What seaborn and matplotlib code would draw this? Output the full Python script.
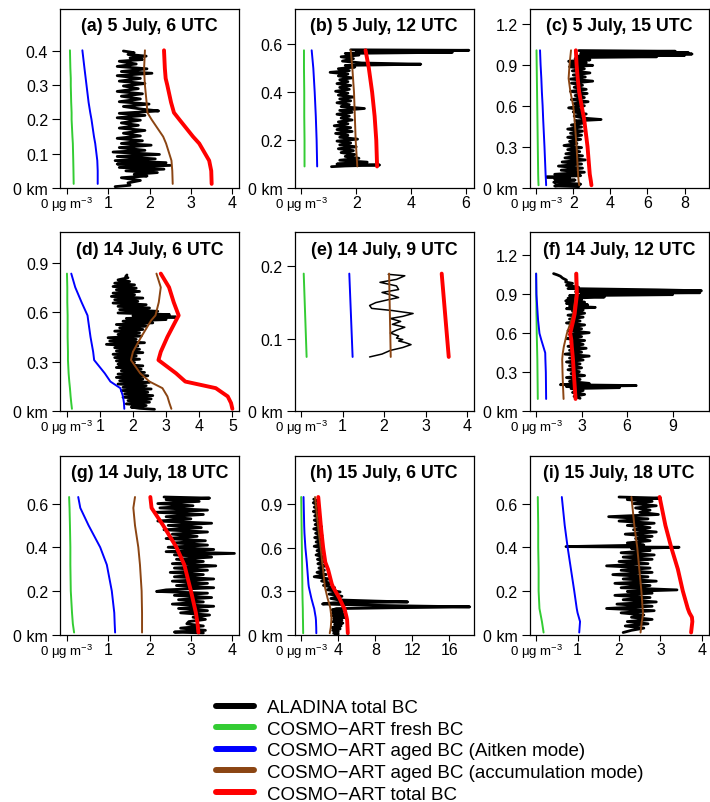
import matplotlib
matplotlib.use("Agg")
from matplotlib import pyplot as plt
from matplotlib.lines import Line2D
import seaborn as sns

# colours of the model components
C_OBS = "black"
C_FRESH = "#33CC33"
C_AITKEN = "#0000FF"
C_ACCUM = "#8B4513"
C_TOTAL = "#FF0000"

# ---------------- (a) 5 July, 6 UTC ----------------
a_z = [0.402, 0.35, 0.32, 0.30, 0.25, 0.22, 0.20, 0.15, 0.13, 0.08, 0.05, 0.012]
a_fresh = [0.08, 0.09, 0.10, 0.10, 0.11, 0.12, 0.12, 0.14, 0.15, 0.16, 0.165, 0.17]
a_aitken = [0.38, 0.43, 0.46, 0.48, 0.53, 0.57, 0.60, 0.66, 0.69, 0.74, 0.75, 0.75]
a_accum = [1.89, 1.87, 1.88, 1.89, 1.93, 1.95, 2.05, 2.33, 2.40, 2.53, 2.55, 2.56]
a_total = [2.35, 2.37, 2.39, 2.43, 2.52, 2.59, 2.72, 3.05, 3.20, 3.44, 3.49, 3.50]
a_obs_z = [0.400, 0.395, 0.390, 0.385, 0.380, 0.375, 0.370, 0.362, 0.355, 0.348,
           0.340, 0.335, 0.328, 0.320, 0.312, 0.305, 0.298, 0.290, 0.282, 0.275,
           0.268, 0.260, 0.252, 0.245, 0.238, 0.230, 0.225, 0.218, 0.212, 0.205,
           0.198, 0.190, 0.183, 0.175, 0.168, 0.160, 0.152, 0.145, 0.138, 0.130,
           0.125, 0.118, 0.110, 0.105, 0.098, 0.092, 0.085, 0.080, 0.074, 0.070,
           0.066, 0.060, 0.055, 0.050, 0.045, 0.040, 0.035, 0.030, 0.022, 0.015,
           0.008, 0.004]
a_obs_x = [1.37, 1.63, 1.48, 1.92, 1.53, 1.83, 1.27, 1.68, 1.22, 1.94,
           1.32, 2.06, 1.22, 1.78, 1.27, 1.89, 1.37, 1.73, 1.22, 1.83,
           1.32, 1.78, 1.27, 1.99, 1.37, 1.83, 2.22, 1.27, 1.89, 1.22,
           1.78, 1.32, 1.73, 1.27, 1.89, 1.37, 1.78, 1.22, 1.83, 1.32,
           2.04, 1.27, 1.89, 1.12, 2.24, 1.22, 2.14, 1.17, 2.40, 1.22,
           2.50, 1.27, 2.35, 1.43, 2.19, 1.63, 1.94, 1.32, 1.78, 1.48,
           1.53, 1.17]

# ---------------- (b) 5 July, 12 UTC ----------------
b_z = [0.575, 0.5, 0.4, 0.3, 0.2, 0.09]
b_fresh = [0.10, 0.10, 0.11, 0.11, 0.12, 0.12]
b_aitken = [0.38, 0.44, 0.49, 0.53, 0.56, 0.58]
b_accum = [1.80, 1.86, 1.92, 1.95, 1.98, 2.04]
b_total = [2.34, 2.46, 2.58, 2.67, 2.73, 2.76]
b_obs_z = [0.577, 0.575, 0.570, 0.567, 0.562, 0.555, 0.548, 0.540, 0.530, 0.522,
           0.517, 0.512, 0.505, 0.498, 0.490, 0.483, 0.476, 0.468, 0.460, 0.452,
           0.444, 0.436, 0.428, 0.420, 0.412, 0.404, 0.396, 0.388, 0.380, 0.372,
           0.364, 0.356, 0.348, 0.340, 0.332, 0.324, 0.316, 0.308, 0.300, 0.292,
           0.284, 0.276, 0.268, 0.260, 0.252, 0.244, 0.236, 0.228, 0.220, 0.212,
           0.204, 0.196, 0.188, 0.180, 0.172, 0.164, 0.156, 0.148, 0.140, 0.132,
           0.124, 0.116, 0.108, 0.100, 0.096, 0.092, 0.089]
b_obs_x = [1.80, 6.10, 2.00, 5.50, 1.60, 2.10, 1.45, 1.90, 1.50, 2.20,
           4.35, 1.60, 1.95, 1.35, 1.75, 1.05, 1.70, 1.35, 1.85, 1.40,
           1.70, 1.30, 1.80, 1.40, 1.75, 1.25, 1.70, 1.35, 1.90, 1.40,
           1.80, 1.30, 1.75, 1.45, 2.30, 1.40, 1.85, 1.30, 1.75, 1.45,
           1.85, 1.35, 1.70, 1.20, 1.80, 1.30, 1.85, 1.25, 1.70, 1.40,
           2.05, 1.30, 1.80, 1.40, 2.00, 1.35, 1.90, 1.45, 1.95, 1.60,
           2.10, 1.40, 2.40, 1.30, 2.85, 1.60, 1.10]

# ---------------- (c) 5 July, 15 UTC ----------------
c_z = [1.005, 0.9, 0.8, 0.7, 0.6, 0.5, 0.3, 0.1, 0.05, 0.02]
c_fresh = [0.02, 0.03, 0.04, 0.05, 0.06, 0.07, 0.09, 0.11, 0.12, 0.13]
c_aitken = [0.21, 0.24, 0.28, 0.31, 0.35, 0.38, 0.45, 0.51, 0.53, 0.54]
c_accum = [1.88, 1.80, 1.75, 1.85, 2.00, 2.07, 2.18, 2.26, 2.29, 2.32]
c_total = [2.14, 2.18, 2.24, 2.32, 2.45, 2.59, 2.77, 2.89, 2.95, 2.98]
c_obs_z = [1.003, 0.998, 0.993, 0.988, 0.983, 0.978, 0.973, 0.968, 0.963, 0.958,
           0.953, 0.945, 0.935, 0.925, 0.915, 0.905, 0.895, 0.885, 0.870, 0.855,
           0.840, 0.825, 0.810, 0.795, 0.780, 0.765, 0.750, 0.735, 0.720, 0.705,
           0.690, 0.675, 0.660, 0.645, 0.630, 0.615, 0.600, 0.585, 0.570, 0.555,
           0.540, 0.525, 0.510, 0.500, 0.490, 0.475, 0.460, 0.445, 0.430, 0.415,
           0.400, 0.385, 0.370, 0.355, 0.340, 0.325, 0.310, 0.295, 0.280, 0.265,
           0.250, 0.235, 0.220, 0.205, 0.190, 0.175, 0.160, 0.145, 0.130, 0.115,
           0.100, 0.090, 0.080, 0.072, 0.065, 0.058, 0.050, 0.042, 0.035, 0.028,
           0.022, 0.015, 0.010]
c_obs_x = [2.30, 7.50, 2.50, 8.20, 2.40, 8.40, 2.60, 8.00, 2.30, 6.50,
           2.80, 2.10, 2.90, 1.75, 2.70, 1.85, 3.05, 1.80, 2.60, 1.95,
           2.90, 2.00, 2.65, 1.85, 3.05, 1.90, 2.50, 2.05, 2.70, 1.85,
           2.75, 2.10, 2.60, 1.90, 2.80, 2.00, 2.60, 1.75, 2.50, 2.00,
           2.70, 2.05, 2.55, 3.50, 2.10, 2.60, 1.90, 2.45, 1.70, 2.50,
           1.85, 2.45, 1.70, 2.40, 1.80, 2.20, 1.50, 2.45, 1.70, 2.35,
           1.60, 2.50, 1.55, 2.65, 1.40, 2.45, 1.20, 2.50, 1.35, 2.60,
           1.00, 2.40, 0.55, 1.80, 1.00, 2.10, 1.20, 0.95, 1.70, 2.40,
           1.50, 1.00, 2.30]

# ---------------- (d) 14 July, 6 UTC ----------------
d_z = [0.833, 0.75, 0.66, 0.58, 0.55, 0.45, 0.36, 0.31, 0.23, 0.18, 0.14, 0.09, 0.05, 0.015]
d_fresh = [0.01, 0.02, 0.02, 0.03, 0.03, 0.03, 0.04, 0.04, 0.06, 0.08, 0.10, 0.12, 0.14, 0.16]
d_aitken = [0.14, 0.26, 0.45, 0.63, 0.65, 0.72, 0.80, 0.83, 1.15, 1.32, 1.62, 1.70, 1.73, 1.74]
d_accum = [2.71, 2.84, 2.78, 2.68, 2.55, 2.25, 2.00, 1.94, 2.22, 2.50, 2.89, 3.04, 3.10, 3.16]
d_total = [2.84, 3.09, 3.23, 3.38, 3.30, 3.04, 2.84, 2.77, 3.30, 3.58, 4.50, 4.86, 4.96, 5.00]
d_obs_z = [0.825, 0.815, 0.808, 0.795, 0.785, 0.775, 0.765, 0.755, 0.745, 0.735,
           0.725, 0.715, 0.705, 0.695, 0.685, 0.675, 0.665, 0.655, 0.645, 0.635,
           0.625, 0.615, 0.605, 0.595, 0.585, 0.578, 0.570, 0.562, 0.555, 0.545,
           0.535, 0.525, 0.515, 0.505, 0.495, 0.485, 0.475, 0.465, 0.455, 0.445,
           0.435, 0.425, 0.415, 0.405, 0.395, 0.385, 0.375, 0.365, 0.355, 0.345,
           0.335, 0.325, 0.315, 0.305, 0.295, 0.285, 0.275, 0.265, 0.255, 0.245,
           0.235, 0.225, 0.215, 0.205, 0.195, 0.185, 0.175, 0.165, 0.155, 0.145,
           0.135, 0.125, 0.115, 0.105, 0.095, 0.085, 0.075, 0.065, 0.055, 0.045,
           0.035, 0.025, 0.018, 0.012]
d_obs_x = [1.82, 1.78, 1.85, 1.55, 1.90, 1.45, 2.05, 1.40, 2.10, 1.50,
           2.20, 1.40, 2.05, 1.35, 2.30, 1.45, 2.15, 1.40, 2.40, 1.55,
           2.50, 1.60, 2.75, 1.55, 3.10, 2.00, 3.30, 1.80, 3.00, 1.70,
           2.60, 1.50, 2.40, 1.60, 2.30, 1.45, 2.20, 1.55, 2.25, 1.25,
           2.10, 1.30, 2.35, 1.20, 2.15, 1.45, 2.20, 1.50, 2.30, 1.40,
           2.10, 1.45, 2.20, 1.50, 2.05, 1.55, 2.30, 1.50, 2.25, 1.65,
           2.35, 1.55, 2.45, 1.50, 2.30, 1.60, 2.50, 1.55, 2.40, 1.70,
           2.55, 1.65, 2.45, 1.75, 2.60, 1.70, 2.55, 1.85, 2.50, 1.80,
           2.40, 1.95, 2.20, 2.65]

# ---------------- (e) 14 July, 9 UTC ----------------
e_z = [0.19, 0.075]
e_fresh = [0.06, 0.13]
e_aitken = [1.16, 1.24]
e_accum = [2.12, 2.16]
e_total = [3.39, 3.56]
e_obs_z = [0.189, 0.187, 0.182, 0.178, 0.173, 0.168, 0.164, 0.160, 0.157, 0.154,
           0.150, 0.146, 0.142, 0.139, 0.135, 0.131, 0.128, 0.124, 0.120, 0.116,
           0.112, 0.108, 0.104, 0.101, 0.099, 0.097, 0.095, 0.092, 0.088, 0.084,
           0.079, 0.075]
e_obs_x = [2.10, 2.50, 2.30, 1.90, 2.30, 2.35, 1.95, 2.20, 2.35, 2.10,
           1.80, 1.65, 1.70, 2.20, 2.70, 2.45, 2.15, 2.40, 2.20, 2.50,
           2.30, 2.15, 2.35, 2.30, 2.45, 2.35, 2.50, 2.65, 2.45, 2.15,
           1.95, 1.65]

# ---------------- (f) 14 July, 12 UTC ----------------
f_z = [1.06, 0.9, 0.75, 0.7, 0.6, 0.55, 0.5, 0.45, 0.4, 0.3, 0.2, 0.095]
f_fresh = [0.00, 0.01, 0.02, 0.03, 0.04, 0.05, 0.06, 0.07, 0.08, 0.09, 0.10, 0.11]
f_aitken = [0.00, 0.02, 0.10, 0.13, 0.22, 0.34, 0.47, 0.60, 0.61, 0.64, 0.65, 0.66]
f_accum = [2.60, 2.62, 2.45, 2.32, 2.03, 1.93, 1.83, 1.76, 1.72, 1.74, 1.77, 1.81]
f_total = [2.65, 2.69, 2.54, 2.45, 2.25, 2.32, 2.35, 2.39, 2.43, 2.48, 2.54, 2.60]
f_obs_z = [1.060, 1.050, 1.040, 1.025, 1.010, 0.995, 0.985, 0.970, 0.955, 0.945,
           0.935, 0.928, 0.920, 0.913, 0.905, 0.898, 0.890, 0.880, 0.870, 0.860,
           0.850, 0.840, 0.830, 0.820, 0.810, 0.800, 0.790, 0.780, 0.770, 0.755,
           0.740, 0.725, 0.710, 0.695, 0.680, 0.665, 0.650, 0.635, 0.620, 0.605,
           0.590, 0.575, 0.560, 0.545, 0.530, 0.515, 0.500, 0.485, 0.470, 0.455,
           0.440, 0.425, 0.410, 0.395, 0.380, 0.365, 0.350, 0.335, 0.320, 0.305,
           0.290, 0.275, 0.260, 0.245, 0.230, 0.215, 0.205, 0.198, 0.190, 0.182,
           0.175, 0.160, 0.145, 0.130, 0.115, 0.100]
f_obs_x = [1.15, 1.40, 1.60, 1.75, 2.00, 1.95, 2.40, 2.00, 2.80, 2.10,
           8.00, 10.9, 2.60, 10.8, 3.00, 9.00, 2.20, 4.50, 2.10, 3.00,
           1.95, 3.20, 2.00, 3.40, 2.20, 3.90, 2.00, 3.10, 2.40, 3.20,
           2.10, 3.10, 2.20, 2.90, 2.00, 3.20, 2.30, 3.00, 2.10, 3.50,
           2.20, 3.00, 2.00, 3.20, 2.30, 3.10, 2.10, 3.30, 2.20, 3.00,
           1.90, 3.50, 2.20, 3.10, 2.00, 2.90, 2.20, 3.00, 2.10, 2.85,
           2.30, 3.20, 2.00, 2.90, 2.20, 3.50, 1.60, 6.60, 2.00, 5.50,
           2.30, 3.10, 2.40, 3.20, 2.50, 2.90]

# ---------------- (g) 14 July, 18 UTC ----------------
g_z = [0.63, 0.58, 0.5, 0.4, 0.32, 0.2, 0.1, 0.05, 0.01]
g_fresh = [0.06, 0.07, 0.08, 0.09, 0.09, 0.10, 0.13, 0.15, 0.18]
g_aitken = [0.28, 0.33, 0.53, 0.81, 0.97, 1.09, 1.15, 1.16, 1.17]
g_accum = [1.65, 1.61, 1.65, 1.73, 1.77, 1.81, 1.82, 1.82, 1.82]
g_total = [2.02, 2.05, 2.33, 2.65, 2.84, 3.00, 3.12, 3.16, 3.18]
g_obs_z = [0.630, 0.625, 0.618, 0.610, 0.600, 0.590, 0.580, 0.570, 0.560, 0.550,
           0.540, 0.530, 0.520, 0.510, 0.500, 0.490, 0.480, 0.470, 0.460, 0.450,
           0.440, 0.430, 0.420, 0.410, 0.400, 0.390, 0.380, 0.372, 0.365, 0.355,
           0.345, 0.335, 0.325, 0.315, 0.305, 0.295, 0.285, 0.275, 0.265, 0.255,
           0.245, 0.235, 0.225, 0.215, 0.205, 0.198, 0.190, 0.180, 0.170, 0.160,
           0.150, 0.140, 0.130, 0.120, 0.110, 0.100, 0.090, 0.080, 0.070, 0.060,
           0.050, 0.040, 0.030, 0.020, 0.012, 0.008]
g_obs_x = [2.35, 3.45, 2.40, 3.20, 2.20, 3.05, 2.25, 3.40, 2.15, 3.30,
           2.40, 3.00, 2.20, 3.50, 2.45, 3.25, 2.35, 3.40, 2.55, 3.15,
           2.40, 3.35, 2.60, 3.40, 2.45, 3.55, 2.40, 4.05, 2.60, 3.50,
           2.65, 3.30, 2.55, 3.60, 2.60, 3.40, 2.50, 3.30, 2.60, 3.55,
           2.55, 3.40, 2.65, 3.55, 2.40, 2.17, 3.40, 2.60, 3.50, 2.70,
           3.30, 2.55, 3.55, 2.70, 3.40, 2.75, 3.45, 3.05, 3.35, 2.95,
           2.90, 3.30, 2.75, 3.35, 2.60, 3.30]

# ---------------- (h) 15 July, 6 UTC ----------------
h_z = [0.95, 0.75, 0.7, 0.6, 0.5, 0.45, 0.35, 0.33, 0.25, 0.2, 0.18, 0.12, 0.1, 0.05, 0.01]
h_fresh = [0.00, 0.04, 0.05, 0.07, 0.09, 0.10, 0.12, 0.12, 0.14, 0.16, 0.17, 0.18, 0.19, 0.20, 0.21]
h_aitken = [0.25, 0.32, 0.35, 0.45, 0.60, 0.66, 0.78, 0.82, 1.10, 1.31, 1.40, 1.56, 1.59, 1.62, 1.63]
h_accum = [1.49, 1.82, 1.91, 2.10, 2.27, 2.36, 2.52, 2.55, 2.85, 3.08, 3.15, 3.26, 3.25, 3.19, 3.08]
h_total = [1.84, 2.12, 2.20, 2.37, 2.60, 2.90, 3.30, 3.43, 4.14, 4.50, 4.67, 4.90, 4.96, 5.00, 5.03]
h_obs_z = [0.935, 0.925, 0.910, 0.895, 0.880, 0.865, 0.850, 0.835, 0.820, 0.805,
           0.790, 0.775, 0.760, 0.745, 0.730, 0.715, 0.700, 0.685, 0.670, 0.655,
           0.640, 0.625, 0.610, 0.595, 0.580, 0.565, 0.550, 0.535, 0.520, 0.505,
           0.490, 0.475, 0.460, 0.445, 0.430, 0.415, 0.400, 0.385, 0.370, 0.355,
           0.340, 0.325, 0.310, 0.295, 0.280, 0.265, 0.250, 0.240, 0.232, 0.226,
           0.220, 0.212, 0.205, 0.198, 0.192, 0.186, 0.180, 0.170, 0.160, 0.150,
           0.140, 0.130, 0.120, 0.110, 0.100, 0.090, 0.080, 0.070, 0.060, 0.050,
           0.040, 0.030, 0.020, 0.010, 0.005]
h_obs_x = [1.35, 1.70, 1.30, 1.80, 1.40, 2.00, 1.30, 1.90, 1.45, 2.10,
           1.40, 2.00, 1.50, 2.20, 1.35, 2.10, 1.55, 2.25, 1.45, 2.20,
           1.60, 2.30, 1.40, 2.40, 1.70, 2.30, 1.60, 2.50, 1.75, 2.45,
           1.80, 2.60, 1.90, 2.50, 1.70, 2.70, 1.40, 3.00, 2.20, 3.20,
           2.40, 3.60, 2.80, 4.20, 3.00, 4.40, 3.20, 4.00, 8.00, 11.5,
           3.50, 2.30, 6.00, 12.0, 18.2, 10.0, 3.80, 3.30, 4.50, 3.40,
           4.60, 3.30, 4.70, 3.50, 4.40, 3.40, 4.50, 3.60, 4.30, 3.30,
           4.20, 3.40, 4.00, 3.50, 4.00]

# ---------------- (i) 15 July, 18 UTC ----------------
i_z = [0.63, 0.5, 0.4, 0.3, 0.2, 0.12, 0.1, 0.08, 0.06, 0.01]
i_fresh = [0.04, 0.05, 0.05, 0.06, 0.06, 0.08, 0.10, 0.12, 0.14, 0.18]
i_aitken = [0.62, 0.69, 0.76, 0.84, 0.92, 0.98, 1.00, 1.03, 1.06, 1.04]
i_accum = [2.30, 2.37, 2.44, 2.49, 2.54, 2.57, 2.58, 2.57, 2.55, 2.52]
i_total = [2.98, 3.12, 3.26, 3.42, 3.54, 3.66, 3.70, 3.76, 3.77, 3.74]
i_obs_z = [0.630, 0.625, 0.618, 0.610, 0.600, 0.590, 0.580, 0.570, 0.560, 0.550,
           0.540, 0.530, 0.520, 0.510, 0.500, 0.490, 0.480, 0.470, 0.460, 0.450,
           0.440, 0.430, 0.420, 0.410, 0.403, 0.400, 0.395, 0.385, 0.375, 0.365,
           0.355, 0.345, 0.335, 0.325, 0.315, 0.305, 0.295, 0.285, 0.275, 0.265,
           0.255, 0.245, 0.235, 0.225, 0.215, 0.205, 0.198, 0.190, 0.180, 0.170,
           0.160, 0.150, 0.140, 0.130, 0.120, 0.110, 0.100, 0.090, 0.080, 0.070,
           0.060, 0.050, 0.040, 0.030, 0.020, 0.010]
i_obs_x = [2.00, 3.00, 2.20, 2.80, 2.35, 2.90, 2.40, 2.75, 2.50, 2.95,
           1.75, 2.70, 2.00, 2.85, 2.20, 2.75, 2.35, 2.90, 2.15, 2.80,
           2.40, 2.75, 2.20, 2.60, 0.72, 3.45, 2.30, 2.75, 2.05, 2.85,
           2.10, 2.80, 2.00, 2.70, 1.70, 2.75, 2.05, 2.80, 1.85, 2.70,
           2.10, 2.90, 1.90, 2.75, 2.05, 3.40, 2.20, 2.80, 1.90, 2.75,
           2.10, 2.90, 1.95, 2.80, 1.70, 2.85, 2.05, 2.60, 2.30, 2.80,
           2.20, 2.70, 2.15, 2.60, 2.30, 2.10]

titles = ["(a) 5 July, 6 UTC", "(b) 5 July, 12 UTC", "(c) 5 July, 15 UTC",
          "(d) 14 July, 6 UTC", "(e) 14 July, 9 UTC", "(f) 14 July, 12 UTC",
          "(g) 14 July, 18 UTC", "(h) 15 July, 6 UTC", "(i) 15 July, 18 UTC"]
x_max = [4, 6.03, 8.93, 5.0, 4, 10.93, 4, 17.9, 4]
x_ticks = [[0, 1, 2, 3, 4], [0, 2, 4, 6], [0, 2, 4, 6, 8],
           [0, 1, 2, 3, 4, 5], [0, 1, 2, 3, 4], [0, 3, 6, 9],
           [0, 1, 2, 3, 4], [0, 4, 8, 12, 16], [0, 1, 2, 3, 4]]
y_ticks = [[0, 0.1, 0.2, 0.3, 0.4], [0, 0.2, 0.4, 0.6], [0, 0.3, 0.6, 0.9, 1.2],
           [0, 0.3, 0.6, 0.9], [0, 0.1, 0.2], [0, 0.3, 0.6, 0.9, 1.2],
           [0, 0.2, 0.4, 0.6], [0, 0.3, 0.6, 0.9], [0, 0.2, 0.4, 0.6]]

legend_labels = ["ALADINA total BC", "COSMO\u2212ART fresh BC",
                 "COSMO\u2212ART aged BC (Aitken mode)",
                 "COSMO\u2212ART aged BC (accumulation mode)",
                 "COSMO\u2212ART total BC"]

profiles = [
    (a_z, a_fresh, a_aitken, a_accum, a_total, a_obs_z, a_obs_x),
    (b_z, b_fresh, b_aitken, b_accum, b_total, b_obs_z, b_obs_x),
    (c_z, c_fresh, c_aitken, c_accum, c_total, c_obs_z, c_obs_x),
    (d_z, d_fresh, d_aitken, d_accum, d_total, d_obs_z, d_obs_x),
    (e_z, e_fresh, e_aitken, e_accum, e_total, e_obs_z, e_obs_x),
    (f_z, f_fresh, f_aitken, f_accum, f_total, f_obs_z, f_obs_x),
    (g_z, g_fresh, g_aitken, g_accum, g_total, g_obs_z, g_obs_x),
    (h_z, h_fresh, h_aitken, h_accum, h_total, h_obs_z, h_obs_x),
    (i_z, i_fresh, i_aitken, i_accum, i_total, i_obs_z, i_obs_x),
]
# the single sparse flight in (e) is drawn thinner
obs_lw = [2.0, 2.0, 2.0, 2.0, 1.1, 2.0, 2.0, 2.0, 2.0]

sns.set_style("ticks")
plt.rcParams['font.family'] = ['Liberation Sans', 'DejaVu Sans']
plt.rcParams['mathtext.default'] = 'regular'
plt.rcParams['text.color'] = 'black'
plt.rcParams['xtick.color'] = 'black'
plt.rcParams['ytick.color'] = 'black'
plt.rcParams['axes.labelcolor'] = 'black'

W, H = 710, 803
fig = plt.figure(figsize=(W / 100, H / 100), dpi=100)

col_left = [60, 294.6, 529.5]
row_top = [10, 233.3, 456.7]
box_w, box_h = 179, 179


def line(ax, x, y, color, lw):
    sns.lineplot(x=x, y=y, sort=False, estimator=None, color=color,
                 lw=lw, ax=ax, legend=False)


for k, (z, fresh, aitken, accum, total, oz, ox) in enumerate(profiles):
    r, c = divmod(k, 3)
    ax = fig.add_axes([col_left[c] / W, 1 - (row_top[r] + box_h) / H,
                       box_w / W, box_h / H])
    line(ax, ox, oz, C_OBS, obs_lw[k])
    line(ax, fresh, z, C_FRESH, 1.4)
    line(ax, aitken, z, C_AITKEN, 1.4)
    line(ax, accum, z, C_ACCUM, 1.4)
    line(ax, total, z, C_TOTAL, 2.8)

    xm = x_max[k]
    ax.set_xlim(-0.04 * xm, 1.04 * xm)
    ax.set_ylim(0, 1.3 * max(z))
    ax.set_xlabel("")
    ax.set_ylabel("")

    ax.tick_params(axis='x', direction='out', length=4.5, width=0.8,
                   labelsize=11.5, pad=0.5, color='black', labelcolor='black')
    ax.tick_params(axis='y', direction='out', length=6, width=0.8,
                   labelsize=11.5, pad=2.5, color='black', labelcolor='black')

    xt = x_ticks[k]
    ax.set_xticks(xt, ["0 \u03bcg m$^{-3}$"] + [f"{v:g}" for v in xt[1:]])
    ax.get_xticklabels()[0].set_fontsize(9.5)
    yt = y_ticks[k]
    ax.set_yticks(yt, ["0 km"] + [f"{v:g}" for v in yt[1:]])

    for sp in ax.spines.values():
        sp.set_visible(True)
        sp.set_color('black')
        sp.set_linewidth(0.9)

    ax.annotate(titles[k], xy=(0.5, 1), xycoords='axes fraction',
                xytext=(0, -12.2), textcoords='offset points',
                ha='center', va='center', fontsize=12.8, fontweight='bold',
                color='black')

handles = [Line2D([], [], color=col, lw=4.3, solid_capstyle='round')
           for col in (C_OBS, C_FRESH, C_AITKEN, C_ACCUM, C_TOTAL)]
fig.legend(handles, legend_labels, loc='upper left',
           bbox_to_anchor=(216 / W, 1 - 700 / H), frameon=False,
           fontsize=13.5, handlelength=2.0, handletextpad=0.7,
           labelspacing=0.24, borderpad=0, borderaxespad=0,
           labelcolor='black')

fig.savefig("out.png", dpi=100)
